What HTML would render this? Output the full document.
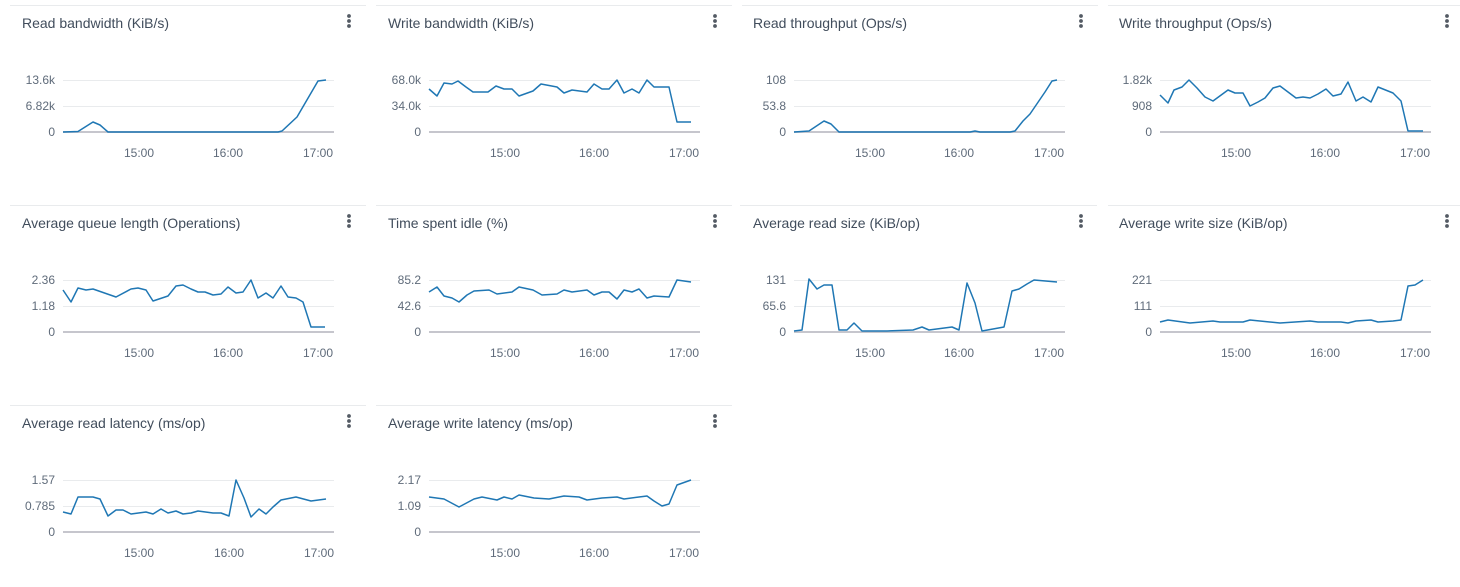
<!DOCTYPE html>
<html><head><meta charset="utf-8"><style>
html,body{margin:0;padding:0;background:#fff;}
svg{display:block;font-family:"Liberation Sans","DejaVu Sans",sans-serif;}
.t{font-size:14px;fill:#414d5c;}
.y{font-size:12px;fill:#5f6b7a;text-anchor:end;}
.x{font-size:12px;fill:#5f6b7a;text-anchor:middle;}
.g{stroke:#e9ebed;stroke-width:1;}
.z{stroke:#c6c6cd;stroke-width:2;}
.s{stroke:#e9ebed;stroke-width:1;}
.d{fill:#545b64;}
.l{fill:none;stroke:#1f77b4;stroke-width:1.5;stroke-linejoin:round;}
</style></head><body>
<svg width="1460" height="587" viewBox="0 0 1460 587" xmlns="http://www.w3.org/2000/svg">
<g transform="translate(0,0)">
<line class="s" x1="10" y1="5.5" x2="366" y2="5.5"/>
<text class="t" x="22" y="28">Read bandwidth (KiB/s)</text>
<circle class="d" cx="349" cy="16" r="1.9"/><circle class="d" cx="349" cy="21" r="1.9"/><circle class="d" cx="349" cy="26" r="1.9"/>
<line class="g" x1="63" y1="80.5" x2="334" y2="80.5"/><line class="g" x1="63" y1="106.5" x2="334" y2="106.5"/><line class="z" x1="63" y1="132" x2="334" y2="132"/>
<text class="y" x="55" y="84">13.6k</text><text class="y" x="55" y="110">6.82k</text><text class="y" x="55" y="136">0</text>
<text class="x" x="139" y="157">15:00</text><text class="x" x="228" y="157">16:00</text><text class="x" x="318" y="157">17:00</text>
</g>
<g transform="translate(366,0)">
<line class="s" x1="10" y1="5.5" x2="366" y2="5.5"/>
<text class="t" x="22" y="28">Write bandwidth (KiB/s)</text>
<circle class="d" cx="349" cy="16" r="1.9"/><circle class="d" cx="349" cy="21" r="1.9"/><circle class="d" cx="349" cy="26" r="1.9"/>
<line class="g" x1="63" y1="80.5" x2="334" y2="80.5"/><line class="g" x1="63" y1="106.5" x2="334" y2="106.5"/><line class="z" x1="63" y1="132" x2="334" y2="132"/>
<text class="y" x="55" y="84">68.0k</text><text class="y" x="55" y="110">34.0k</text><text class="y" x="55" y="136">0</text>
<text class="x" x="139" y="157">15:00</text><text class="x" x="228" y="157">16:00</text><text class="x" x="318" y="157">17:00</text>
</g>
<g transform="translate(732,0)">
<line class="s" x1="10" y1="5.5" x2="366" y2="5.5"/>
<text class="t" x="21" y="28">Read throughput (Ops/s)</text>
<circle class="d" cx="349" cy="16" r="1.9"/><circle class="d" cx="349" cy="21" r="1.9"/><circle class="d" cx="349" cy="26" r="1.9"/>
<line class="g" x1="62" y1="80.5" x2="333" y2="80.5"/><line class="g" x1="62" y1="106.5" x2="333" y2="106.5"/><line class="z" x1="62" y1="132" x2="333" y2="132"/>
<text class="y" x="54" y="84">108</text><text class="y" x="54" y="110">53.8</text><text class="y" x="54" y="136">0</text>
<text class="x" x="138" y="157">15:00</text><text class="x" x="227" y="157">16:00</text><text class="x" x="317" y="157">17:00</text>
</g>
<g transform="translate(1098,0)">
<line class="s" x1="10" y1="5.5" x2="362" y2="5.5"/>
<text class="t" x="21" y="28">Write throughput (Ops/s)</text>
<circle class="d" cx="349" cy="16" r="1.9"/><circle class="d" cx="349" cy="21" r="1.9"/><circle class="d" cx="349" cy="26" r="1.9"/>
<line class="g" x1="62" y1="80.5" x2="333" y2="80.5"/><line class="g" x1="62" y1="106.5" x2="333" y2="106.5"/><line class="z" x1="62" y1="132" x2="333" y2="132"/>
<text class="y" x="54" y="84">1.82k</text><text class="y" x="54" y="110">908</text><text class="y" x="54" y="136">0</text>
<text class="x" x="138" y="157">15:00</text><text class="x" x="227" y="157">16:00</text><text class="x" x="317" y="157">17:00</text>
</g>
<g transform="translate(0,200)">
<line class="s" x1="10" y1="5.5" x2="366" y2="5.5"/>
<text class="t" x="22" y="28">Average queue length (Operations)</text>
<circle class="d" cx="349" cy="16" r="1.9"/><circle class="d" cx="349" cy="21" r="1.9"/><circle class="d" cx="349" cy="26" r="1.9"/>
<line class="g" x1="63" y1="80.5" x2="334" y2="80.5"/><line class="g" x1="63" y1="106.5" x2="334" y2="106.5"/><line class="z" x1="63" y1="132" x2="334" y2="132"/>
<text class="y" x="55" y="84">2.36</text><text class="y" x="55" y="110">1.18</text><text class="y" x="55" y="136">0</text>
<text class="x" x="139" y="157">15:00</text><text class="x" x="228" y="157">16:00</text><text class="x" x="318" y="157">17:00</text>
</g>
<g transform="translate(366,200)">
<line class="s" x1="10" y1="5.5" x2="366" y2="5.5"/>
<text class="t" x="22" y="28">Time spent idle (%)</text>
<circle class="d" cx="349" cy="16" r="1.9"/><circle class="d" cx="349" cy="21" r="1.9"/><circle class="d" cx="349" cy="26" r="1.9"/>
<line class="g" x1="63" y1="80.5" x2="334" y2="80.5"/><line class="g" x1="63" y1="106.5" x2="334" y2="106.5"/><line class="z" x1="63" y1="132" x2="334" y2="132"/>
<text class="y" x="55" y="84">85.2</text><text class="y" x="55" y="110">42.6</text><text class="y" x="55" y="136">0</text>
<text class="x" x="139" y="157">15:00</text><text class="x" x="228" y="157">16:00</text><text class="x" x="318" y="157">17:00</text>
</g>
<g transform="translate(732,200)">
<line class="s" x1="8" y1="5.5" x2="365" y2="5.5"/>
<text class="t" x="21" y="28">Average read size (KiB/op)</text>
<circle class="d" cx="349" cy="16" r="1.9"/><circle class="d" cx="349" cy="21" r="1.9"/><circle class="d" cx="349" cy="26" r="1.9"/>
<line class="g" x1="62" y1="80.5" x2="333" y2="80.5"/><line class="g" x1="62" y1="106.5" x2="333" y2="106.5"/><line class="z" x1="62" y1="132" x2="333" y2="132"/>
<text class="y" x="54" y="84">131</text><text class="y" x="54" y="110">65.6</text><text class="y" x="54" y="136">0</text>
<text class="x" x="138" y="157">15:00</text><text class="x" x="227" y="157">16:00</text><text class="x" x="317" y="157">17:00</text>
</g>
<g transform="translate(1098,200)">
<line class="s" x1="10" y1="5.5" x2="362" y2="5.5"/>
<text class="t" x="21" y="28">Average write size (KiB/op)</text>
<circle class="d" cx="349" cy="16" r="1.9"/><circle class="d" cx="349" cy="21" r="1.9"/><circle class="d" cx="349" cy="26" r="1.9"/>
<line class="g" x1="62" y1="80.5" x2="333" y2="80.5"/><line class="g" x1="62" y1="106.5" x2="333" y2="106.5"/><line class="z" x1="62" y1="132" x2="333" y2="132"/>
<text class="y" x="54" y="84">221</text><text class="y" x="54" y="110">111</text><text class="y" x="54" y="136">0</text>
<text class="x" x="138" y="157">15:00</text><text class="x" x="227" y="157">16:00</text><text class="x" x="317" y="157">17:00</text>
</g>
<g transform="translate(0,400)">
<line class="s" x1="10" y1="5.5" x2="366" y2="5.5"/>
<text class="t" x="22" y="28">Average read latency (ms/op)</text>
<circle class="d" cx="349" cy="16" r="1.9"/><circle class="d" cx="349" cy="21" r="1.9"/><circle class="d" cx="349" cy="26" r="1.9"/>
<line class="g" x1="63" y1="80.5" x2="334" y2="80.5"/><line class="g" x1="63" y1="106.5" x2="334" y2="106.5"/><line class="z" x1="63" y1="132" x2="334" y2="132"/>
<text class="y" x="55" y="84">1.57</text><text class="y" x="55" y="110">0.785</text><text class="y" x="55" y="136">0</text>
<text class="x" x="139" y="157">15:00</text><text class="x" x="229" y="157">16:00</text><text class="x" x="319" y="157">17:00</text>
</g>
<g transform="translate(366,400)">
<line class="s" x1="10" y1="5.5" x2="366" y2="5.5"/>
<text class="t" x="22" y="28">Average write latency (ms/op)</text>
<circle class="d" cx="349" cy="16" r="1.9"/><circle class="d" cx="349" cy="21" r="1.9"/><circle class="d" cx="349" cy="26" r="1.9"/>
<line class="g" x1="63" y1="80.5" x2="334" y2="80.5"/><line class="g" x1="63" y1="106.5" x2="334" y2="106.5"/><line class="z" x1="63" y1="132" x2="334" y2="132"/>
<text class="y" x="55" y="84">2.17</text><text class="y" x="55" y="110">1.09</text><text class="y" x="55" y="136">0</text>
<text class="x" x="139" y="157">15:00</text><text class="x" x="228" y="157">16:00</text><text class="x" x="318" y="157">17:00</text>
</g>
<polyline class="l" points="63,132 78,131.5 93,122 100,125 108,132 278,132 282,131 297,117 318,81 326,80"/>
<polyline class="l" points="429,89 437,96 444,83 452,84 458,81 466,87 473,92 488,92 496,86 504,89 512,89 519,96 533,91 541,84 557,87 564,93 572,90 587,92 594,84 602,89 609,89 617,80 624,93 632,89 639,93 647,80 654,87 669,87 677,122 691,122"/>
<polyline class="l" points="794,132 809,131 824,121 831,124 839,132 970,132 975,131 980,132 1010,132 1015,131 1023,121 1030,114 1045,92 1052,81 1057,80"/>
<polyline class="l" points="1160,95 1168,103 1174,90 1182,87 1189,80 1197,88 1205,97 1213,101 1228,90 1235,93 1243,93 1250,106 1258,102 1265,98 1273,88 1280,86 1288,92 1296,98 1303,97 1310,98 1318,94 1326,89 1333,96 1341,94 1348,82 1356,101 1363,97 1371,102 1378,87 1393,93 1401,101 1408,131 1423,131"/>
<polyline class="l" points="63,290 71,302 78,288 86,290 93,289 116,297 131,289 138,288 146,290 153,301 168,296 176,286 183,285 191,289 198,292 205,292 213,295 221,294 228,287 236,293 243,292 251,280 258,298 266,293 273,298 281,286 288,297 296,298 303,302 311,327 325,327"/>
<polyline class="l" points="429,292 437,287 444,296 452,298 459,302 467,295 474,291 489,290 497,294 512,292 519,287 533,290 542,295 557,294 564,290 572,292 587,290 594,295 602,292 609,292 617,299 624,290 632,292 639,289 647,298 654,296 669,297 677,280 691,282"/>
<polyline class="l" points="794,331 802,330 809,279 817,289 824,285 832,285 839,330 847,330 854,323 862,331 887,331 913,330 922,327 929,330 952,327 959,330 967,283 975,303 982,331 1004,327 1012,291 1019,289 1027,284 1034,280 1057,282"/>
<polyline class="l" points="1160,322 1168,320 1190,323 1213,321 1220,322 1243,322 1250,320 1280,323 1310,321 1318,322 1341,322 1348,323 1356,321 1371,320 1378,322 1393,321 1401,320 1408,286 1415,285 1423,280"/>
<polyline class="l" points="63,512 71,514 78,497 93,497 100,499 108,516 116,510 123,510 131,514 146,512 153,514 161,509 168,513 176,511 183,514 191,513 198,511 213,513 221,513 229,516 236,480 244,498 251,517 259,509 266,514 273,507 281,500 296,497 311,501 326,499"/>
<polyline class="l" points="429,497 444,499 459,507 474,499 482,497 497,500 504,497 512,499 519,495 534,498 549,499 564,496 579,497 587,500 602,498 617,497 624,499 639,497 647,496 654,501 662,506 669,504 677,485 691,480"/>
</svg>
</body></html>
